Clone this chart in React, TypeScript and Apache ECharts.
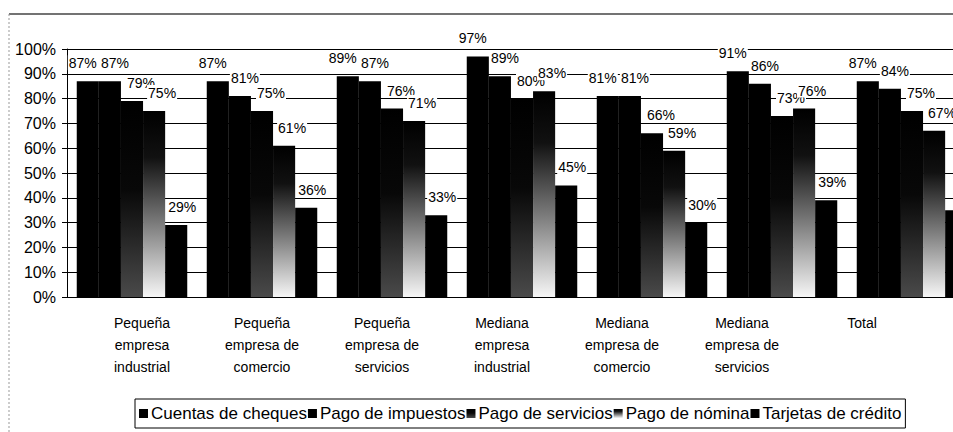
import React, { useEffect, useRef } from "react";
import * as echarts from "echarts";

const categories = [
  "Pequeña\nempresa\nindustrial",
  "Pequeña\nempresa de\ncomercio",
  "Pequeña\nempresa de\nservicios",
  "Mediana\nempresa\nindustrial",
  "Mediana\nempresa de\ncomercio",
  "Mediana\nempresa de\nservicios",
  "Total",
];

const seriesNames = [
  "Cuentas de cheques",
  "Pago de impuestos",
  "Pago de servicios",
  "Pago de nómina",
  "Tarjetas de crédito",
];

const cuentasCheques = [87, 87, 89, 97, 81, 91, 87];
const pagoImpuestos = [87, 81, 87, 89, 81, 86, 84];
const pagoServicios = [79, 75, 76, 80, 66, 73, 75];
const pagoNomina = [75, 61, 71, 83, 59, 76, 67];
const tarjetasCredito = [29, 36, 33, 45, 30, 39, 35];

const yTicks = [0, 10, 20, 30, 40, 50, 60, 70, 80, 90, 100];

const FONT = "Liberation Sans, Arial, sans-serif";

export default function App() {
  const ref = useRef<HTMLDivElement>(null);

  useEffect(() => {
    if (!ref.current) return;
    const chart = echarts.init(ref.current, undefined, { renderer: "svg" });

    const black = "#000";
    const servGrad = new echarts.graphic.LinearGradient(0, 0, 0, 1, [
      { offset: 0, color: "#000" },
      { offset: 0.45, color: "#080808" },
      { offset: 1, color: "#4a4a4a" },
    ]);
    const nominaGrad = new echarts.graphic.LinearGradient(0, 0, 0, 1, [
      { offset: 0, color: "#000" },
      { offset: 0.25, color: "#111" },
      { offset: 0.6, color: "#7a7a7a" },
      { offset: 1, color: "#f6f6f6" },
    ]);

    const colors = [black, black, servGrad, nominaGrad, black];
    const datasets = [cuentasCheques, pagoImpuestos, pagoServicios, pagoNomina, tarjetasCredito];
    const labelOffsets = [-5, 5, 9, 8, 6];

    const series = datasets.map((d, i) => ({
      type: "bar",
      name: seriesNames[i],
      xAxisIndex: 0,
      yAxisIndex: 0,
      data: d.map((v, j) => ({
        value: v,
        label: { show: !(i === 4 && j === 6) },
      })),
      barGap: "0%",
      barCategoryGap: "15%",
      itemStyle: { color: colors[i] },
      label: {
        show: true,
        position: "top",
        distance: 11,
        offset: [labelOffsets[i], 0],
        formatter: "{c}%",
        color: "#000",
        fontFamily: FONT,
        fontSize: 14,
        backgroundColor: "#fff",
        padding: [1, 1, 0, 1],
      },
    }));

    chart.setOption({
      animation: false,
      backgroundColor: "#fff",
      textStyle: { fontFamily: FONT },
      grid: [
        {
          left: 67,
          top: 49,
          bottom: 135,
          width: 910,
          containLabel: false,
          outerBoundsMode: "none",
        },
        {
          left: 82,
          top: 49,
          bottom: 135,
          width: 840,
          containLabel: false,
          outerBoundsMode: "none",
        },
      ],
      xAxis: [
        {
          type: "category",
          gridIndex: 0,
          data: categories,
          axisLine: { show: true, lineStyle: { color: "#000", width: 1 } },
          axisTick: { show: false },
          axisLabel: { show: false },
        },
        {
          type: "category",
          gridIndex: 1,
          data: categories,
          axisLine: { show: false },
          axisTick: { show: false },
          axisLabel: {
            show: true,
            interval: 0,
            color: "#000",
            fontFamily: FONT,
            fontSize: 14,
            lineHeight: 22,
            margin: 15,
          },
        },
      ],
      yAxis: [
        {
          type: "value",
          gridIndex: 0,
          min: yTicks[0],
          max: yTicks[yTicks.length - 1],
          interval: 10,
          axisLine: { show: true, lineStyle: { color: "#000", width: 1 } },
          axisTick: { show: true, length: 5, lineStyle: { color: "#000" } },
          splitLine: { show: true, lineStyle: { color: "#000", width: 1 } },
          axisLabel: {
            formatter: "{value}%",
            color: "#000",
            fontFamily: FONT,
            fontSize: 16,
            margin: 11,
          },
        },
        {
          type: "value",
          gridIndex: 1,
          min: 0,
          max: 100,
          show: false,
        },
      ],
      legend: {
        data: seriesNames,
        left: 135,
        top: 399,
        orient: "horizontal",
        itemGap: 1,
        itemWidth: 9,
        itemHeight: 9,
        icon: "rect",
        padding: [6, 4, 6, 4],
        borderColor: "#000",
        borderWidth: 1,
        textStyle: {
          color: "#000",
          fontFamily: FONT,
          fontSize: 17,
          padding: [0, 0, 0, -2],
        },
      },
      graphic: [
        {
          type: "line",
          shape: { x1: 9, y1: 14, x2: 953, y2: 14 },
          style: { stroke: "#444", lineWidth: 1.5 },
          silent: true,
        },
        {
          type: "line",
          shape: { x1: 9, y1: 14, x2: 9, y2: 432 },
          style: { stroke: "#999", lineWidth: 1, lineDash: [2, 2] },
          silent: true,
        },
      ],
      series,
    });

    return () => chart.dispose();
  }, []);

  return (
    <div
      ref={ref}
      style={{ position: "absolute", left: 0, top: 0, width: 953, height: 432 }}
    />
  );
}
